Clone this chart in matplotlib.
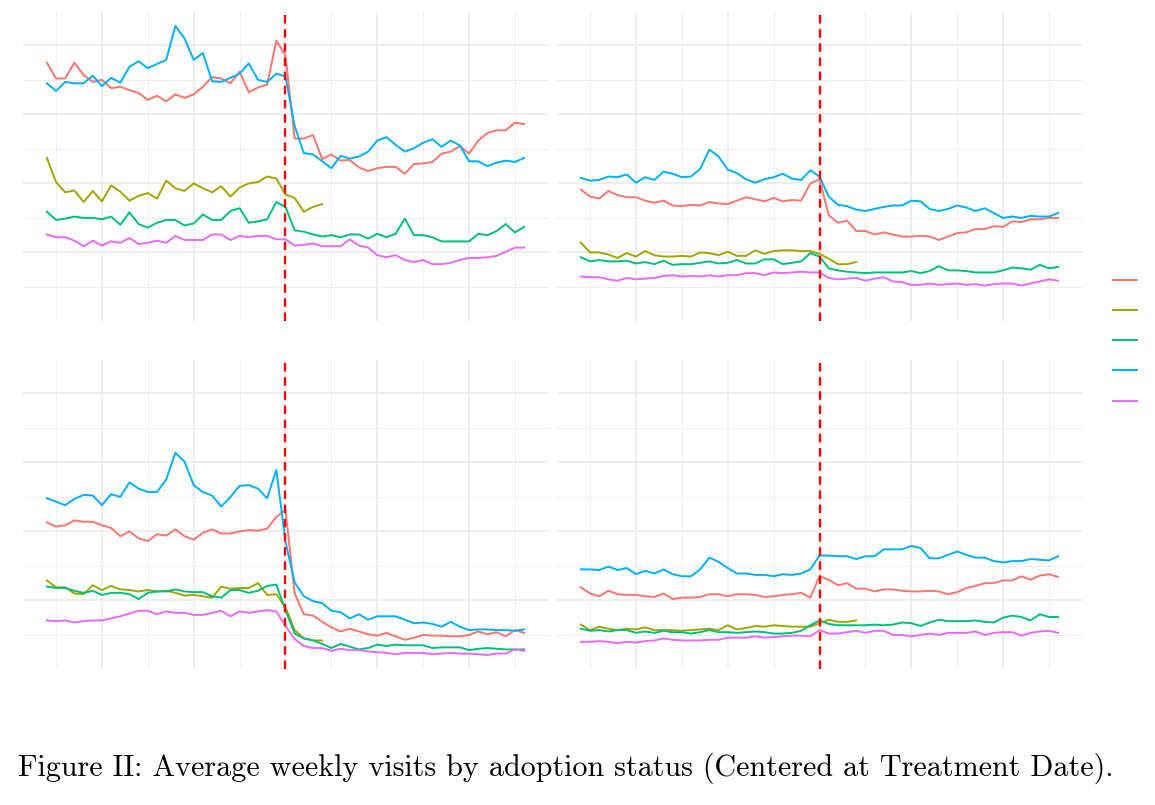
import numpy as np
import matplotlib
matplotlib.use("Agg")
import matplotlib.pyplot as plt
from matplotlib.ticker import MultipleLocator, NullFormatter

# weeks relative to treatment date
weeks = list(range(-26, 27))
weeks_short = list(range(-26, 5))   # second group stops 4 weeks after

colors = ["#F8766D", "#A3A500", "#00BF7D", "#00B0F6", "#E76BF3"]

# --- top left panel ---
tl_red = [3.75, 3.52, 3.52, 3.75, 3.57, 3.47, 3.50, 3.38, 3.40, 3.35, 3.31, 3.21, 3.27, 3.19, 3.29, 3.24, 3.29, 3.40,
          3.54, 3.52, 3.45, 3.62, 3.32, 3.39, 3.43, 4.07, 3.85,
          2.65, 2.65, 2.70, 2.35, 2.42, 2.33, 2.34, 2.23, 2.18, 2.22, 2.24, 2.24, 2.14, 2.28, 2.29, 2.31, 2.43,
          2.46, 2.54, 2.43, 2.62, 2.73, 2.77, 2.77, 2.88, 2.86]
tl_yellow = [2.37, 2.02, 1.87, 1.90, 1.73, 1.89, 1.74, 1.97, 1.88, 1.75, 1.82, 1.86, 1.78, 2.04, 1.93, 1.89, 2.00,
             1.93, 1.87, 1.96, 1.81, 1.94, 2.00, 2.02, 2.10, 2.07, 1.84, 1.79, 1.59, 1.66, 1.70]
tl_green = [1.59, 1.47, 1.49, 1.52, 1.50, 1.50, 1.48, 1.52, 1.40, 1.58, 1.41, 1.36, 1.43, 1.47, 1.47, 1.39, 1.42, 1.55,
            1.47, 1.47, 1.60, 1.64, 1.43, 1.45, 1.48, 1.73, 1.66,
            1.32, 1.30, 1.26, 1.23, 1.25, 1.22, 1.26, 1.26, 1.20, 1.27, 1.22, 1.27, 1.49, 1.25, 1.25, 1.22, 1.16,
            1.16, 1.16, 1.16, 1.27, 1.25, 1.31, 1.41, 1.29, 1.37]
tl_blue = [3.45, 3.34, 3.47, 3.45, 3.45, 3.56, 3.41, 3.53, 3.46, 3.69, 3.77, 3.67, 3.73, 3.79, 4.28, 4.10, 3.79, 3.89,
           3.48, 3.47, 3.53, 3.59, 3.74, 3.50, 3.47, 3.59, 3.55,
           2.83, 2.44, 2.42, 2.32, 2.22, 2.40, 2.36, 2.39, 2.46, 2.62, 2.67, 2.56, 2.46, 2.51, 2.59, 2.64, 2.53,
           2.62, 2.55, 2.32, 2.32, 2.25, 2.30, 2.33, 2.31, 2.37]
tl_pink = [1.26, 1.22, 1.22, 1.17, 1.09, 1.17, 1.10, 1.16, 1.14, 1.21, 1.12, 1.14, 1.17, 1.14, 1.24, 1.18, 1.18, 1.18,
           1.26, 1.26, 1.18, 1.24, 1.22, 1.24, 1.24, 1.19, 1.19,
           1.10, 1.11, 1.13, 1.09, 1.09, 1.09, 1.19, 1.10, 1.07, 0.96, 0.93, 0.96, 0.89, 0.86, 0.89, 0.83, 0.83,
           0.85, 0.89, 0.92, 0.92, 0.93, 0.95, 1.01, 1.07, 1.07]

# --- top right panel ---
tr_red = [1.91, 1.81, 1.78, 1.89, 1.83, 1.80, 1.80, 1.75, 1.72, 1.75, 1.68, 1.67, 1.69, 1.68, 1.73, 1.71, 1.70, 1.75,
          1.80, 1.77, 1.74, 1.79, 1.74, 1.76, 1.75, 2.00, 2.06,
          1.54, 1.43, 1.46, 1.31, 1.31, 1.26, 1.29, 1.26, 1.23, 1.23, 1.24, 1.23, 1.18, 1.23, 1.28, 1.29, 1.34,
          1.34, 1.38, 1.37, 1.45, 1.44, 1.48, 1.48, 1.50, 1.50]
tr_yellow = [1.14, 1.00, 1.00, 0.97, 0.92, 0.99, 0.94, 1.02, 0.96, 0.94, 0.94, 0.95, 0.94, 1.00, 0.99, 0.96, 1.01,
             0.95, 0.95, 1.03, 0.98, 1.02, 1.03, 1.03, 1.02, 1.02, 0.98, 0.91, 0.83, 0.83, 0.86]
tr_green = [0.93, 0.87, 0.89, 0.87, 0.87, 0.88, 0.84, 0.86, 0.83, 0.88, 0.82, 0.83, 0.83, 0.85, 0.87, 0.84, 0.85, 0.89,
            0.84, 0.84, 0.90, 0.90, 0.83, 0.85, 0.87, 0.99, 0.94,
            0.77, 0.74, 0.72, 0.71, 0.70, 0.71, 0.71, 0.71, 0.71, 0.73, 0.70, 0.73, 0.80, 0.74, 0.74, 0.73, 0.71,
            0.71, 0.71, 0.74, 0.78, 0.77, 0.75, 0.82, 0.77, 0.79]
tr_blue = [2.08, 2.04, 2.05, 2.10, 2.09, 2.13, 2.01, 2.09, 2.05, 2.17, 2.14, 2.09, 2.10, 2.21, 2.49, 2.39, 2.20, 2.15,
           2.06, 2.01, 2.06, 2.09, 2.14, 2.07, 2.05, 2.19, 2.10,
           1.81, 1.69, 1.67, 1.62, 1.60, 1.63, 1.66, 1.68, 1.68, 1.75, 1.74, 1.63, 1.60, 1.63, 1.68, 1.65, 1.60,
           1.64, 1.57, 1.50, 1.52, 1.50, 1.53, 1.52, 1.52, 1.57]
tr_pink = [0.65, 0.64, 0.64, 0.61, 0.59, 0.63, 0.61, 0.62, 0.63, 0.66, 0.67, 0.65, 0.66, 0.65, 0.67, 0.65, 0.67, 0.67,
           0.70, 0.70, 0.67, 0.71, 0.70, 0.71, 0.72, 0.71, 0.71,
           0.63, 0.61, 0.62, 0.63, 0.59, 0.62, 0.64, 0.58, 0.57, 0.53, 0.53, 0.55, 0.53, 0.54, 0.55, 0.53, 0.54,
           0.52, 0.54, 0.55, 0.55, 0.52, 0.55, 0.58, 0.61, 0.59]

# --- bottom left panel ---
bl_red = [2.13, 2.07, 2.09, 2.16, 2.14, 2.14, 2.09, 2.05, 1.93, 2.00, 1.90, 1.86, 1.96, 1.94, 2.03, 1.93, 1.88, 1.98,
          2.03, 1.97, 1.97, 2.00, 2.02, 2.01, 2.04, 2.21, 2.31,
          1.10, 0.80, 0.78, 0.69, 0.61, 0.55, 0.59, 0.55, 0.51, 0.49, 0.53, 0.48, 0.43, 0.46, 0.50, 0.49, 0.49,
          0.48, 0.48, 0.50, 0.55, 0.51, 0.54, 0.48, 0.57, 0.53]
bl_yellow = [1.29, 1.19, 1.19, 1.10, 1.09, 1.22, 1.15, 1.21, 1.16, 1.15, 1.13, 1.15, 1.13, 1.14, 1.11, 1.07, 1.08,
             1.06, 1.04, 1.20, 1.17, 1.18, 1.18, 1.25, 1.08, 1.09, 0.90, 0.57, 0.45, 0.42, 0.42]
bl_green = [1.20, 1.18, 1.18, 1.14, 1.11, 1.14, 1.08, 1.11, 1.11, 1.09, 1.02, 1.11, 1.13, 1.13, 1.16, 1.13, 1.12, 1.12,
            1.06, 1.04, 1.15, 1.15, 1.11, 1.14, 1.21, 1.23, 0.86,
            0.52, 0.45, 0.42, 0.37, 0.31, 0.37, 0.33, 0.29, 0.31, 0.36, 0.34, 0.36, 0.35, 0.35, 0.35, 0.31, 0.32,
            0.32, 0.32, 0.28, 0.30, 0.31, 0.30, 0.29, 0.29, 0.29]
bl_blue = [2.48, 2.43, 2.38, 2.47, 2.53, 2.52, 2.38, 2.54, 2.50, 2.71, 2.62, 2.57, 2.57, 2.75, 3.14, 3.01, 2.67, 2.57,
           2.52, 2.36, 2.50, 2.66, 2.67, 2.62, 2.48, 2.89, 1.85,
           1.26, 1.06, 0.99, 0.96, 0.85, 0.83, 0.74, 0.80, 0.72, 0.77, 0.77, 0.77, 0.72, 0.67, 0.68, 0.66, 0.62,
           0.69, 0.62, 0.57, 0.58, 0.58, 0.57, 0.57, 0.56, 0.58]
bl_pink = [0.71, 0.70, 0.71, 0.68, 0.70, 0.71, 0.71, 0.74, 0.77, 0.81, 0.85, 0.85, 0.80, 0.84, 0.82, 0.82, 0.79, 0.79,
           0.82, 0.85, 0.77, 0.84, 0.82, 0.84, 0.86, 0.84, 0.63,
           0.44, 0.34, 0.31, 0.31, 0.27, 0.30, 0.28, 0.28, 0.26, 0.25, 0.24, 0.22, 0.24, 0.24, 0.24, 0.22, 0.23,
           0.24, 0.23, 0.23, 0.22, 0.21, 0.23, 0.23, 0.29, 0.27]

# --- bottom right panel ---
br_red = [1.19, 1.10, 1.06, 1.14, 1.09, 1.08, 1.08, 1.06, 1.05, 1.10, 1.02, 1.04, 1.04, 1.05, 1.09, 1.09, 1.06, 1.09,
          1.09, 1.08, 1.05, 1.06, 1.08, 1.09, 1.11, 1.04, 1.35,
          1.30, 1.22, 1.25, 1.17, 1.17, 1.13, 1.16, 1.16, 1.14, 1.13, 1.13, 1.14, 1.13, 1.09, 1.12, 1.18, 1.21,
          1.25, 1.25, 1.29, 1.29, 1.35, 1.30, 1.36, 1.38, 1.34]
br_yellow = [0.65, 0.57, 0.62, 0.59, 0.57, 0.59, 0.58, 0.61, 0.57, 0.57, 0.57, 0.56, 0.57, 0.58, 0.59, 0.57, 0.64,
             0.58, 0.60, 0.63, 0.62, 0.64, 0.63, 0.62, 0.62, 0.62, 0.67, 0.72, 0.69, 0.69, 0.71]
br_green = [0.59, 0.56, 0.57, 0.55, 0.57, 0.57, 0.53, 0.55, 0.53, 0.56, 0.54, 0.54, 0.52, 0.54, 0.57, 0.54, 0.54, 0.53,
            0.54, 0.55, 0.54, 0.52, 0.52, 0.53, 0.56, 0.64, 0.71,
            0.66, 0.64, 0.64, 0.64, 0.64, 0.65, 0.64, 0.65, 0.68, 0.67, 0.63, 0.68, 0.72, 0.70, 0.70, 0.70, 0.71,
            0.69, 0.68, 0.75, 0.78, 0.76, 0.71, 0.80, 0.76, 0.76]
br_blue = [1.45, 1.45, 1.44, 1.49, 1.44, 1.47, 1.38, 1.43, 1.39, 1.45, 1.38, 1.35, 1.35, 1.45, 1.62, 1.56, 1.47, 1.39,
           1.39, 1.37, 1.37, 1.35, 1.38, 1.37, 1.39, 1.45, 1.65,
           1.65, 1.64, 1.64, 1.60, 1.64, 1.64, 1.74, 1.74, 1.74, 1.79, 1.76, 1.61, 1.61, 1.66, 1.71, 1.66, 1.62,
           1.62, 1.57, 1.55, 1.57, 1.57, 1.60, 1.59, 1.58, 1.64]
br_pink = [0.40, 0.40, 0.41, 0.40, 0.38, 0.40, 0.39, 0.41, 0.42, 0.45, 0.43, 0.42, 0.42, 0.42, 0.43, 0.43, 0.46, 0.46,
           0.46, 0.48, 0.46, 0.47, 0.48, 0.49, 0.49, 0.48, 0.57,
           0.52, 0.52, 0.54, 0.56, 0.53, 0.56, 0.56, 0.50, 0.50, 0.48, 0.50, 0.52, 0.50, 0.53, 0.53, 0.53, 0.55,
           0.50, 0.53, 0.54, 0.54, 0.49, 0.53, 0.55, 0.56, 0.53]

panels = [
    (tl_red, tl_yellow, tl_green, tl_blue, tl_pink),
    (tr_red, tr_yellow, tr_green, tr_blue, tr_pink),
    (bl_red, bl_yellow, bl_green, bl_blue, bl_pink),
    (br_red, br_yellow, br_green, br_blue, br_pink),
]

caption = "Figure II: Average weekly visits by adoption status (Centered at Treatment Date)."

# shared y scale with ggplot-like 5% expansion
all_vals = np.concatenate([np.asarray(s) for p in panels for s in p])
ypad = 0.05 * (all_vals.max() - all_vals.min())
ylims = (all_vals.min() - ypad, all_vals.max() + ypad)
xpad = 0.05 * (weeks[-1] - weeks[0])
xlims = (weeks[0] - xpad, weeks[-1] + xpad)

fig = plt.figure(figsize=(11.55, 8.05), dpi=100)

W, H = 1155, 805
boxes = [(23, 12), (557, 12), (23, 360), (557, 360)]  # panel top-left corners in px
pw, ph = 525, 309

handles = []
for (x0, y0), series in zip(boxes, panels):
    ax = fig.add_axes([x0 / W, 1 - (y0 + ph) / H, pw / W, ph / H])
    for i, s in enumerate(series):
        xs = weeks_short if i == 1 else weeks
        ln, = ax.plot(xs, s, color=colors[i], lw=1.4, zorder=3)
        if len(handles) < 5:
            handles.append(ln)
    ax.axvline(0, color="red", lw=1.7, linestyle=(0, (3.6, 2.4)), zorder=5)
    ax.set_xlim(xlims)
    ax.set_ylim(ylims)
    ax.xaxis.set_major_locator(MultipleLocator(10))
    ax.xaxis.set_minor_locator(MultipleLocator(5))
    ax.yaxis.set_major_locator(MultipleLocator(1))
    ax.yaxis.set_minor_locator(MultipleLocator(0.5))
    ax.grid(which="major", color="#EBEBEB", lw=1.2, zorder=0)
    ax.grid(which="minor", color="#EBEBEB", lw=0.6, zorder=0)
    ax.tick_params(which="both", length=0)
    ax.xaxis.set_major_formatter(NullFormatter())
    ax.yaxis.set_major_formatter(NullFormatter())
    for sp in ax.spines.values():
        sp.set_visible(False)
    ax.set_axisbelow(True)

fig.legend(handles, [" "] * 5, loc="center left", bbox_to_anchor=(1113 / W, 1 - 341 / H),
           frameon=False, borderpad=0, borderaxespad=0, handlelength=1.6, handletextpad=0.2,
           labelspacing=1.0, fontsize=11)

fig.text(18 / W, 1 - 768 / H, caption, family="cmr10", fontsize=21.65, ha="left", va="center")

fig.savefig("out.png", dpi=100)
